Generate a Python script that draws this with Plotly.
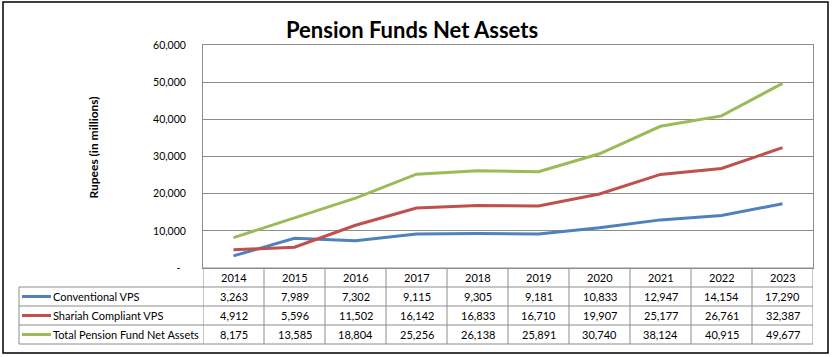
import plotly.graph_objects as go

# ---- data ----
years = ["2014", "2015", "2016", "2017", "2018", "2019", "2020", "2021", "2022", "2023"]
conventional_vps = [3263, 7989, 7302, 9115, 9305, 9181, 10833, 12947, 14154, 17290]
shariah_vps = [4912, 5596, 11502, 16142, 16833, 16710, 19907, 25177, 26761, 32387]
total_net_assets = [8175, 13585, 18804, 25256, 26138, 25891, 30740, 38124, 40915, 49677]
series_names = ["Conventional VPS", "Shariah Compliant VPS", "Total Pension Fund Net Assets"]
y_tick_vals = [0, 10000, 20000, 30000, 40000, 50000, 60000]
y_tick_text = ["-\u00a0\u00a0", "10,000", "20,000", "30,000", "40,000", "50,000", "60,000"]

# ---- layout geometry ----
W, H = 833, 357
PL, PR, PT, PB = 203, 813, 45, 268
FONT = "Lato, Carlito, Calibri, sans-serif"
colors = ["#4F81BD", "#C0504D", "#9BBB59"]
grid_color = "#8C8C8C"


def py(px_y):
    return (PB - px_y) / (PB - PT)


def px(px_x):
    return (px_x - PL) / (PR - PL)


series_values = [conventional_vps, shariah_vps, total_net_assets]

fig = go.Figure()
for name, vals, col in zip(series_names, series_values, colors):
    fig.add_trace(go.Scatter(x=years, y=vals, name=name, mode="lines",
                             line=dict(color=col, width=3), showlegend=False,
                             hoverinfo="skip"))

shapes = []
annotations = []

# table grid
row_edges = [268, 287, 306, 325, 344]
n = len(years)
for i in range(n + 1):
    shapes.append(dict(type="line", xref="x", yref="paper", x0=i - 0.5, x1=i - 0.5,
                       y0=py(268), y1=py(344), line=dict(color=grid_color, width=1)))
for j, ey in enumerate(row_edges):
    x0 = PL if j == 0 else 19
    shapes.append(dict(type="line", xref="paper", yref="paper", x0=px(x0), x1=px(PR),
                       y0=py(ey), y1=py(ey), line=dict(color=grid_color, width=1)))
shapes.append(dict(type="line", xref="paper", yref="paper", x0=px(19), x1=px(19),
                   y0=py(287), y1=py(344), line=dict(color=grid_color, width=1)))

# header (years) - category index positions
for i, yr in enumerate(years):
    annotations.append(dict(x=i, y=py(277.5), xref="x", yref="paper", text=yr,
                            showarrow=False, font=dict(size=11, color="black", family=FONT),
                            xanchor="center", yanchor="middle"))
# rows
for r, (name, vals, col) in enumerate(zip(series_names, series_values, colors)):
    cy = (row_edges[r + 1] + row_edges[r + 2]) / 2
    shapes.append(dict(type="line", xref="paper", yref="paper", x0=px(22), x1=px(51),
                       y0=py(cy), y1=py(cy), line=dict(color=col, width=3)))
    annotations.append(dict(x=px(51), y=py(cy), xref="paper", yref="paper", text=name,
                            showarrow=False, font=dict(size=11, color="black", family=FONT),
                            xanchor="left", yanchor="middle"))
    for i, v in enumerate(vals):
        annotations.append(dict(x=i, y=py(cy), xref="x", yref="paper", text=f"{v:,}",
                                showarrow=False, font=dict(size=11, color="black", family=FONT),
                                xanchor="center", yanchor="middle"))

# outer frame
shapes.append(dict(type="rect", xref="paper", yref="paper", x0=px(3), x1=px(828),
                   y0=py(353), y1=py(2), line=dict(color="black", width=1.5), layer="below"))

# title and axis title
annotations.append(dict(x=px(411.5), y=py(29), xref="paper", yref="paper",
                        text="<b>Pension Funds Net Assets</b>", showarrow=False,
                        font=dict(size=22, color="black", family=FONT),
                        xanchor="center", yanchor="middle"))
annotations.append(dict(x=px(93), y=py(147.5), xref="paper", yref="paper",
                        text="<b>Rupees (in millions)</b>", showarrow=False, textangle=-90,
                        font=dict(size=12, color="black", family=FONT),
                        xanchor="center", yanchor="middle"))

fig.update_layout(
    width=W, height=H,
    margin=dict(l=PL, r=W - PR, t=PT, b=H - PB, pad=0),
    paper_bgcolor="white", plot_bgcolor="white",
    shapes=shapes, annotations=annotations,
    xaxis=dict(type="category", range=[-0.5, n - 0.5], showticklabels=False, showgrid=False,
               zeroline=False, showline=True, linecolor=grid_color, linewidth=1, mirror=True,
               ticks="", fixedrange=True),
    yaxis=dict(range=[0, 60000], tickvals=y_tick_vals, ticktext=y_tick_text,
               showgrid=True, gridcolor=grid_color, gridwidth=1, zeroline=False,
               showline=True, linecolor=grid_color, linewidth=1, mirror=True,
               ticks="", ticklabelstandoff=14, fixedrange=True,
               tickfont=dict(size=10.5, color="black", family=FONT)),
)

fig.write_html("out.html", config={"displayModeBar": False},
               post_script="document.body.style.margin='0';")
